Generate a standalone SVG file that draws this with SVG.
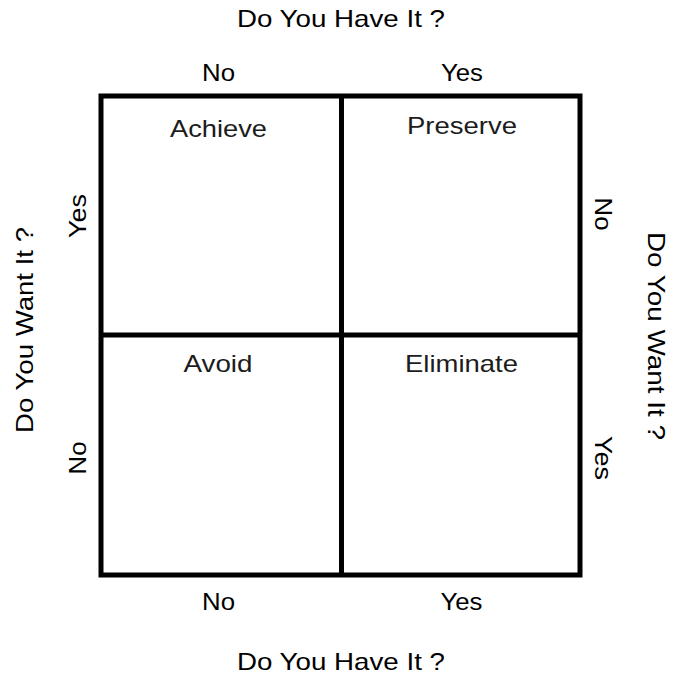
<svg xmlns="http://www.w3.org/2000/svg" width="686" height="675" viewBox="0 0 686 675">
<style>
text{font-family:"Liberation Sans",Arial,Helvetica,sans-serif;font-size:24px;fill:#000;text-anchor:middle}
.q{fill:#1c1c1c}
.ln{stroke:#000;stroke-width:5;fill:none}
</style>
<rect width="686" height="675" fill="#fff"/>
<g id="grid">
<rect class="ln" x="101" y="96" width="479" height="479"/>
<line class="ln" x1="341.5" y1="96" x2="341.5" y2="575"/>
<line class="ln" x1="101" y1="335" x2="580" y2="335"/>
</g>
<g id="q-achieve"><text class="q" x="218.5" y="137" textLength="97" lengthAdjust="spacingAndGlyphs">Achieve</text></g>
<g id="q-preserve"><text class="q" x="462" y="134" textLength="110" lengthAdjust="spacingAndGlyphs">Preserve</text></g>
<g id="q-avoid"><text class="q" x="218" y="372" textLength="69" lengthAdjust="spacingAndGlyphs">Avoid</text></g>
<g id="q-eliminate"><text class="q" x="461.5" y="372" textLength="113" lengthAdjust="spacingAndGlyphs">Eliminate</text></g>
<g id="axis-top">
<text x="341" y="27" textLength="208" lengthAdjust="spacingAndGlyphs">Do You Have It ?</text>
<text x="218.5" y="81" textLength="33" lengthAdjust="spacingAndGlyphs">No</text>
<text x="462" y="81" textLength="42" lengthAdjust="spacingAndGlyphs">Yes</text>
</g>
<g id="axis-bottom">
<text x="218.5" y="610" textLength="33" lengthAdjust="spacingAndGlyphs">No</text>
<text x="461.5" y="610" textLength="42" lengthAdjust="spacingAndGlyphs">Yes</text>
<text x="341" y="670" textLength="208" lengthAdjust="spacingAndGlyphs">Do You Have It ?</text>
</g>
<g id="axis-left">
<text transform="translate(33,330) rotate(-90)" textLength="206" lengthAdjust="spacingAndGlyphs">Do You Want It ?</text>
<text transform="translate(86,216) rotate(-90)" textLength="44" lengthAdjust="spacingAndGlyphs">Yes</text>
<text transform="translate(86,458) rotate(-90)" textLength="33" lengthAdjust="spacingAndGlyphs">No</text>
</g>
<g id="axis-right">
<text transform="translate(648,336) rotate(90)" textLength="208" lengthAdjust="spacingAndGlyphs">Do You Want It ?</text>
<text transform="translate(595,214) rotate(90)" textLength="33" lengthAdjust="spacingAndGlyphs">No</text>
<text transform="translate(595,458) rotate(90)" textLength="44" lengthAdjust="spacingAndGlyphs">Yes</text>
</g>
</svg>
